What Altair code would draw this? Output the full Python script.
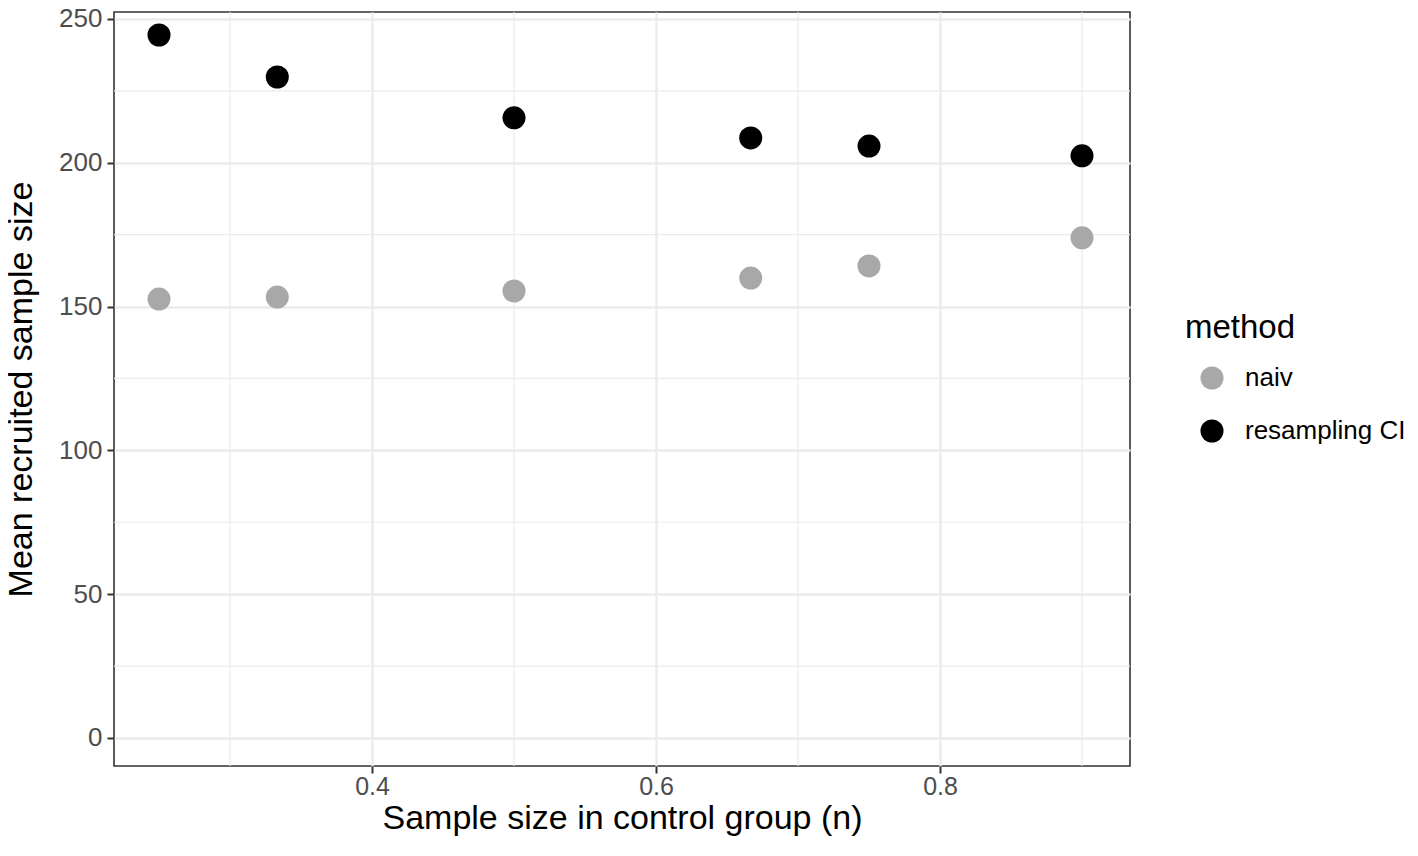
import altair as alt
import pandas as pd

x_vals = [0.25, 0.3333, 0.5, 0.6667, 0.75, 0.9]
naiv = [152.6, 153.3, 155.4, 159.9, 164.1, 173.9]
resampling = [244.4, 229.8, 215.6, 208.6, 205.8, 202.4]
methods = ["naiv", "resampling CI"]
minor_x = [0.3, 0.5, 0.7, 0.9]
minor_y = [25, 75, 125, 175, 225]
x_ticks = [0.4, 0.6, 0.8]
y_ticks = [0, 50, 100, 150, 200, 250]

rows = []
for xv, a, b in zip(x_vals, naiv, resampling):
    rows.append({"n": xv, "size": a, "method": methods[0]})
    rows.append({"n": xv, "size": b, "method": methods[1]})
df = pd.DataFrame(rows)

FONT = "Liberation Sans"
xscale = alt.Scale(domain=[0.2183, 0.9338], nice=False, zero=False)
yscale = alt.Scale(domain=[-9.74, 252.4], nice=False, zero=False)

vminor = alt.Chart(pd.DataFrame({"x": minor_x})).mark_rule(color="#EBEBEB", strokeWidth=1.2).encode(
    x=alt.X("x:Q", scale=xscale)
)
hminor = alt.Chart(pd.DataFrame({"y": minor_y})).mark_rule(color="#EBEBEB", strokeWidth=1.2).encode(
    y=alt.Y("y:Q", scale=yscale)
)

points = alt.Chart(df).mark_circle(size=530, opacity=1).encode(
    x=alt.X("n:Q", scale=xscale, title="Sample size in control group (n)",
            axis=alt.Axis(values=x_ticks, format=".1f", grid=True, gridColor="#EBEBEB", gridWidth=2.4,
                          domain=False, tickColor="#333333", tickWidth=2, tickSize=7,
                          labelColor="#4D4D4D", labelFontSize=25, labelFont=FONT, labelPadding=1,
                          titleFont=FONT, titleFontSize=34, titleFontWeight="normal", titleColor="#000000",
                          titlePadding=2)),
    y=alt.Y("size:Q", scale=yscale, title="Mean recruited sample size",
            axis=alt.Axis(values=y_ticks, grid=True, gridColor="#EBEBEB", gridWidth=2.4,
                          domain=False, tickColor="#333333", tickWidth=2, tickSize=7,
                          labelColor="#4D4D4D", labelFontSize=26, labelFont=FONT, labelPadding=5,
                          titleFont=FONT, titleFontSize=34, titleFontWeight="normal", titleColor="#000000",
                          titlePadding=20)),
    color=alt.Color("method:N", scale=alt.Scale(domain=methods, range=["#A8A8A8", "#000000"]),
                    legend=alt.Legend(title="method", orient="none", legendX=1071, legendY=300,
                                      titleFont=FONT, titleFontSize=33, titleFontWeight="normal",
                                      titleColor="#000000", titlePadding=20,
                                      labelFont=FONT, labelFontSize=26, labelColor="#000000",
                                      labelLimit=400,
                                      symbolType="circle", symbolSize=530, symbolStrokeWidth=0,
                                      symbolOpacity=1, rowPadding=27, labelOffset=20,
                                      symbolOffset=14)),
)

chart = alt.layer(vminor, hminor, points).properties(
    width=1016, height=754,
    padding={"left": 106, "top": 4, "right": 280, "bottom": 76},
    autosize=alt.AutoSizeParams(type="none"),
).configure(background="white").configure_view(stroke="#333333", strokeWidth=1.6)

chart.save("out.html", embed_options={"renderer": "svg", "actions": False})
